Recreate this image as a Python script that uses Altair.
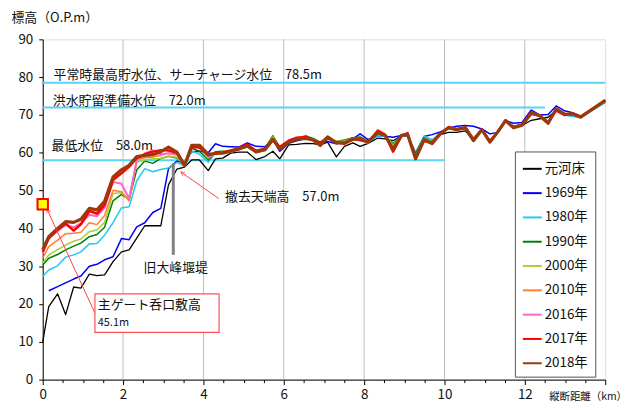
import altair as alt
import pandas as pd

FONT = "Noto Sans CJK JP"

DIST = [0.00, 0.15, 0.37, 0.57, 0.77, 0.95, 1.16, 1.35, 1.54, 1.75,
        1.96, 2.15, 2.34, 2.54, 2.74, 2.94, 3.13, 3.34, 3.53, 3.71,
        3.90, 4.12, 4.30, 4.48, 4.68, 4.88, 5.09, 5.31, 5.53, 5.73,
        5.90, 6.12, 6.32, 6.55, 6.73, 6.91, 7.09, 7.31, 7.51, 7.72,
        7.90, 8.10, 8.34, 8.52, 8.72, 8.93, 9.08, 9.28, 9.49, 9.69,
        9.89, 10.10, 10.30, 10.52, 10.72, 10.93, 11.13, 11.33, 11.52, 11.72,
        11.93, 12.16, 12.37, 12.58, 12.78, 12.99, 13.19, 13.39, 14.00]

NAMES = ["元河床", "1969年", "1980年", "1990年", "2000年", "2010年", "2016年", "2017年", "2018年"]
COLORS = ["#000000", "#0000FF", "#22C8F8", "#008000", "#A6CF3A", "#FF7F2A", "#FF66CC", "#FF0000", "#9A3A0A"]
WIDTHS = [1.3, 1.5, 1.5, 1.5, 1.5, 1.5, 2.0, 2.5, 3.2]

S_MOTO = [10.0, 19.3, 22.7, 17.2, 24.5, 24.2, 27.9, 27.5, 27.7, 31.2,
          33.8, 34.3, 37.4, 40.7, 40.7, 40.7, 51.5, 55.7, 56.2, 58.1,
          58.1, 55.3, 58.4, 58.6, 59.9, 60.2, 60.2, 58.2, 59.0, 60.4,
          58.4, 62.1, 62.2, 62.5, 62.4, 62.1, 62.8, 58.9, 61.7, 62.6,
          61.7, 62.5, 63.9, 63.7, 63.2, 64.5, 64.5, 59.5, 63.5, 62.6,
          64.8, 65.4, 65.4, 65.8, 63.2, 66.0, 62.8, 65.5, 68.4, 66.7,
          67.2, 68.6, 69.0, 69.4, 71.2, 70.2, 70.2, 69.4, 73.8]
S_1969 = [None, 23.5, 24.6, 25.6, 26.6, 27.4, 30.0, 30.5, 31.7, 32.5,
          37.3, 37.0, 40.4, 41.5, 44.2, 45.3, 55.8, 57.8, 57.2, 60.3,
          60.4, 60.0, 62.4, 61.7, 61.6, 61.5, 62.6, 61.7, 61.6, 63.5,
          60.4, 62.5, 63.2, 63.8, 63.5, 62.8, 63.0, 62.4, 62.8, 63.7,
          65.0, 63.5, 64.5, 64.4, 64.1, 64.6, 64.6, 60.0, 64.3, 64.8,
          65.5, 66.5, 67.0, 67.2, 67.0, 66.3, 65.0, 65.4, 68.5, 67.8,
          68.0, 71.3, 70.0, 70.1, 72.4, 71.1, 70.6, 69.6, 73.9]
S_1980 = [27.3, 29.0, 30.1, 32.4, 33.0, 33.8, 35.9, 36.0, 38.2, 41.5,
          45.4, 45.7, 52.6, 55.8, 55.0, 55.6, 56.0, 57.4, 56.6, 60.5,
          59.6, 57.5, 59.9, 60.2, 60.1, 60.8, 61.6, 60.2, 61.0, 63.8,
          61.4, 62.8, 63.8, 64.6, 63.6, 62.6, 64.2, 62.8, 63.0, 63.6,
          63.9, 62.8, 64.5, 64.4, 62.6, 64.2, 64.8, 59.8, 64.4, 63.5,
          65.0, 66.4, 66.3, 66.8, 64.0, 66.0, 63.0, 65.5, 68.3, 67.0,
          67.6, 70.4, 69.7, 68.3, 71.2, 70.0, 69.6, 69.3, 73.3]
S_1990 = [30.3, 32.1, 33.1, 34.3, 35.3, 36.1, 37.8, 38.4, 40.3, 47.3,
          49.0, 47.6, 55.5, 57.8, 57.2, 58.5, 59.1, 58.6, 56.5, 61.2,
          60.4, 58.1, 60.3, 60.4, 60.4, 61.2, 62.0, 60.6, 61.2, 64.5,
          61.5, 63.0, 63.6, 64.4, 63.8, 62.8, 64.3, 63.0, 63.4, 64.0,
          64.2, 63.0, 65.2, 64.5, 62.3, 64.5, 65.0, 59.6, 64.0, 63.0,
          65.2, 66.5, 66.0, 66.7, 63.8, 66.2, 63.2, 65.8, 68.4, 66.9,
          67.5, 70.7, 70.0, 68.2, 71.5, 70.2, 70.0, 69.5, 73.5]
S_2000 = [30.8, 33.0, 34.4, 35.6, 36.6, 37.2, 39.1, 39.6, 41.6, 49.2,
          49.4, 47.5, 57.5, 58.1, 58.4, 58.5, 59.1, 58.8, 56.6, 61.6,
          61.4, 58.7, 59.8, 60.2, 60.3, 61.0, 61.9, 60.3, 60.9, 64.2,
          61.2, 62.9, 63.7, 64.2, 63.6, 62.5, 64.1, 63.0, 63.1, 63.9,
          63.8, 63.0, 65.0, 64.7, 62.0, 64.6, 64.9, 59.0, 63.8, 62.8,
          65.1, 66.5, 66.0, 66.6, 64.0, 66.1, 63.1, 65.7, 68.5, 66.8,
          67.4, 70.6, 70.0, 68.3, 71.5, 70.3, 70.1, 69.4, 73.6]
S_2010 = [32.1, 35.2, 36.9, 38.6, 38.7, 39.0, 41.5, 41.0, 43.4, 50.1,
          49.7, 47.3, 58.2, 58.7, 58.9, 59.3, 59.9, 59.4, 56.7, 61.8,
          61.8, 59.0, 59.9, 60.0, 60.3, 61.1, 61.7, 60.4, 60.7, 63.6,
          61.3, 62.9, 63.8, 64.0, 63.5, 62.2, 64.0, 62.9, 62.8, 63.5,
          63.7, 62.9, 65.2, 64.6, 61.5, 64.5, 64.9, 58.7, 63.6, 62.6,
          65.0, 66.6, 66.2, 66.7, 63.6, 66.1, 63.0, 65.6, 68.5, 66.7,
          67.3, 70.4, 69.8, 68.0, 71.4, 70.1, 70.2, 69.5, 73.7]
S_2016 = [33.4, 37.5, 39.3, 40.9, 40.3, 41.3, 43.6, 43.2, 45.5, 52.3,
          51.8, 47.9, 58.0, 59.8, 60.6, 59.6, 59.9, 59.6, 56.8, 61.7,
          61.6, 59.0, 59.8, 60.0, 60.5, 61.0, 61.9, 60.3, 60.6, 63.2,
          61.2, 63.0, 63.7, 63.9, 63.3, 62.3, 63.9, 62.7, 62.5, 63.4,
          63.5, 62.6, 65.5, 64.7, 60.5, 64.4, 65.0, 58.6, 63.3, 62.5,
          64.9, 66.7, 66.2, 66.8, 63.5, 66.0, 63.1, 65.6, 68.4, 66.7,
          67.3, 70.4, 69.7, 68.1, 71.1, 69.9, 70.1, 69.5, 73.7]
S_2017 = [33.8, 37.4, 39.6, 41.3, 39.4, 41.1, 44.6, 43.9, 46.2, 52.8,
          54.6, 56.3, 58.6, 59.6, 60.3, 60.7, 60.6, 60.0, 56.8, 61.5,
          61.4, 59.3, 60.0, 60.1, 60.6, 61.2, 62.2, 60.5, 61.0, 63.4,
          61.5, 63.2, 64.0, 64.2, 63.5, 62.5, 63.8, 62.8, 62.4, 63.5,
          63.8, 62.8, 65.9, 64.8, 60.3, 64.5, 65.2, 58.5, 63.2, 62.6,
          64.8, 66.8, 66.3, 66.7, 63.4, 66.2, 63.0, 65.5, 68.6, 66.8,
          67.4, 70.3, 69.9, 68.0, 71.3, 70.0, 70.4, 69.6, 73.8]
S_2018 = [34.4, 37.8, 40.0, 41.8, 41.6, 42.4, 45.3, 44.9, 47.2, 53.6,
          55.5, 56.7, 59.0, 59.3, 59.5, 60.3, 61.5, 60.2, 56.6, 62.0,
          62.0, 59.6, 59.8, 59.9, 60.4, 61.0, 61.8, 60.2, 60.8, 63.6,
          61.0, 62.8, 63.6, 63.8, 63.4, 61.9, 64.2, 62.6, 62.6, 63.7,
          63.4, 62.9, 65.3, 64.6, 61.0, 64.6, 64.9, 58.4, 63.5, 62.4,
          65.0, 66.6, 66.1, 66.6, 63.2, 66.1, 62.8, 65.6, 68.5, 66.6,
          67.3, 70.5, 69.8, 67.8, 71.6, 70.2, 70.3, 69.4, 73.9]

SERIES = [S_MOTO, S_1969, S_1980, S_1990, S_2000, S_2010, S_2016, S_2017, S_2018]

X_TICKS = [0, 0.5, 1, 1.5, 2, 2.5, 3, 3.5, 4, 4.5, 5, 5.5, 6, 6.5, 7, 7.5,
           8, 8.5, 9, 9.5, 10, 10.5, 11, 11.5, 12, 12.5, 13, 13.5, 14]
Y_TICKS = [0, 10, 20, 30, 40, 50, 60, 70, 80, 90]
GRID_X = [2, 4, 6, 8, 10, 12]

LEVEL_VALUES = [78.5, 72.0, 58.0]
LEVEL_ENDS = [14.0, 12.5, 10.0]
LEVEL_LABELS = ["平常時最高貯水位、サーチャージ水位　78.5m", "洪水貯留準備水位　72.0m", "最低水位　58.0m"]
LEVEL_LABEL_X = [0.27, 0.25, 0.22]
LEVEL_LABEL_Y = [80.6, 73.7, 61.9]

rows = []
for name, vals in zip(NAMES, SERIES):
    for d, v in zip(DIST, vals):
        if v is not None:
            rows.append({"dist": d, "elev": v, "series": name})
df = pd.DataFrame(rows)

xscale = alt.Scale(domain=[0, 14], nice=False, zero=False)
yscale = alt.Scale(domain=[0, 90], nice=False)
cscale = alt.Scale(domain=NAMES, range=COLORS)

x_axis = alt.Axis(
    values=X_TICKS,
    labelExpr="(datum.value % 2 === 0 && datum.value < 14) ? format(datum.value, 'd') : ''",
    grid=False, tickColor="#000", domainColor="#000",
    tickSize={"condition": {"test": "datum.value % 2 === 0", "value": 5}, "value": 3},
    labelFont=FONT, labelFontSize=13.5, labelColor="#111", labelPadding=3,
    labelFlush=False, labelOverlap=False,
    title="縦断距離（km）", titleX=510, titleY=17, titleAlign="left",
    titleBaseline="middle", titleFont=FONT, titleFontSize=10.5,
    titleFontWeight="normal", titleColor="#111",
)
y_axis = alt.Axis(
    values=Y_TICKS, grid=False, tickColor="#000", domainColor="#000",
    tickSize=4, labelFont=FONT, labelFontSize=13.5, labelColor="#111",
    labelPadding=6, labelOverlap=False,
    title="標高（O.P.m）", titleAngle=0, titleX=-32, titleY=-22,
    titleAlign="left", titleBaseline="middle", titleFont=FONT,
    titleFontSize=13, titleFontWeight="normal", titleColor="#111",
)
legend = alt.Legend(
    title=None, orient="none", legendX=476, legendY=113,
    fillColor="white", strokeColor="#555", padding=7,
    labelFont=FONT, labelFontSize=13.5, labelColor="#111",
    symbolType="stroke", symbolSize=361, symbolStrokeWidth=2,
    rowPadding=7.5, labelOffset=2,
)

X = lambda f: alt.X(f, type="quantitative", scale=xscale, axis=x_axis)
Y = lambda f: alt.Y(f, type="quantitative", scale=yscale, axis=y_axis)

grid_df = pd.DataFrame({"dist": GRID_X})
grid = alt.Chart(grid_df).mark_rule(color="#BDBDBD", strokeWidth=1).encode(x=X("dist"))

lev_df = pd.DataFrame({"elev": LEVEL_VALUES, "dist2": LEVEL_ENDS, "dist": [0.0] * 3})
levels = alt.Chart(lev_df).mark_rule(color="#5AD5F7", strokeWidth=2).encode(
    x=X("dist"), x2="dist2:Q", y=Y("elev"))

lab_df = pd.DataFrame({"dist": LEVEL_LABEL_X, "elev": LEVEL_LABEL_Y, "t": LEVEL_LABELS})
level_text = alt.Chart(lab_df).mark_text(
    align="left", baseline="middle", font=FONT, fontSize=13, color="#111"
).encode(x=X("dist"), y=Y("elev"), text="t:N")

layers = [grid, levels]
for name, w in zip(NAMES, WIDTHS):
    layers.append(
        alt.Chart(df).transform_filter(alt.datum.series == name)
        .mark_line(strokeWidth=w, strokeJoin="round")
        .encode(x=X("dist"), y=Y("elev"),
                color=alt.Color("series:N", scale=cscale, legend=legend))
    )

# old weir bar
weir_df = pd.DataFrame({"dist": [3.25], "elev": [33.0], "elev2": [57.2]})
weir = alt.Chart(weir_df).mark_rule(color="#808080", strokeWidth=3).encode(
    x=X("dist"), y=Y("elev"), y2="elev2:Q")
weir_lab = alt.Chart(pd.DataFrame({"dist": [3.31], "elev": [29.6], "t": ["旧大峰堰堤"]})).mark_text(
    font=FONT, fontSize=13, color="#111", baseline="middle").encode(x=X("dist"), y=Y("elev"), text="t:N")

# removed crest label with arrow
crest_lab = alt.Chart(pd.DataFrame({"dist": [4.54], "elev": [48.2], "t": ["撤去天端高　57.0m"]})).mark_text(
    font=FONT, fontSize=13, color="#111", align="left", baseline="middle").encode(x=X("dist"), y=Y("elev"), text="t:N")

arrow_df = pd.DataFrame({"dist": [4.38, 1.30], "elev": [47.9, 17.6],
                         "dist2": [3.44, 0.11], "elev2": [54.9, 45.0]})
arrow_lines = alt.Chart(arrow_df).mark_rule(color="#FF4040", strokeWidth=1).encode(
    x=X("dist"), y=Y("elev"), x2="dist2:Q", y2="elev2:Q")
HEAD = "M -0.6 1 L 0 0 L 0.6 1"
head_df = pd.DataFrame({"dist": [3.44, 0.11], "elev": [54.9, 45.0], "ang": [304.7, 335.0]})
heads = alt.Chart(head_df).mark_point(shape=HEAD, size=50, color="#FF4040", strokeWidth=1, filled=False).encode(
    x=X("dist"), y=Y("elev"), angle=alt.Angle("ang:Q", scale=None))

# gate marker
gate = alt.Chart(pd.DataFrame({"dist": [0.0], "elev": [46.4]})).mark_square(
    size=110, fill="#FFFF00", stroke="#FF0000", strokeWidth=2, opacity=1, filled=True).encode(
    x=X("dist"), y=Y("elev"))

box = alt.Chart(pd.DataFrame({"dist": [1.30], "dist2": [4.39], "elev": [22.7], "elev2": [12.5]})).mark_rect(
    fill="white", stroke="#FF5050", strokeWidth=1.2).encode(
    x=X("dist"), x2="dist2:Q", y=Y("elev"), y2="elev2:Q")
box_t1 = alt.Chart(pd.DataFrame({"dist": [1.37], "elev": [19.8], "t": ["主ゲート呑口敷高"]})).mark_text(
    font=FONT, fontSize=13, color="#111", align="left", baseline="middle").encode(x=X("dist"), y=Y("elev"), text="t:N")
box_t2 = alt.Chart(pd.DataFrame({"dist": [1.37], "elev": [15.0], "t": ["45.1m"]})).mark_text(
    font=FONT, fontSize=11, color="#111", align="left", baseline="middle").encode(x=X("dist"), y=Y("elev"), text="t:N")

layers += [level_text, weir, weir_lab, crest_lab, arrow_lines, heads, box, box_t1, box_t2, gate]

chart = alt.layer(*layers).properties(
    width=567, height=343,
    autosize=alt.AutoSizeParams(type="none"),
    padding={"left": 35, "top": 30, "right": 24, "bottom": 28},
).configure_view(stroke="#444", strokeWidth=1).configure(font=FONT).configure_axis(labelOverlap=False)

chart.save("out.html", embed_options={"renderer": "svg", "actions": False})
